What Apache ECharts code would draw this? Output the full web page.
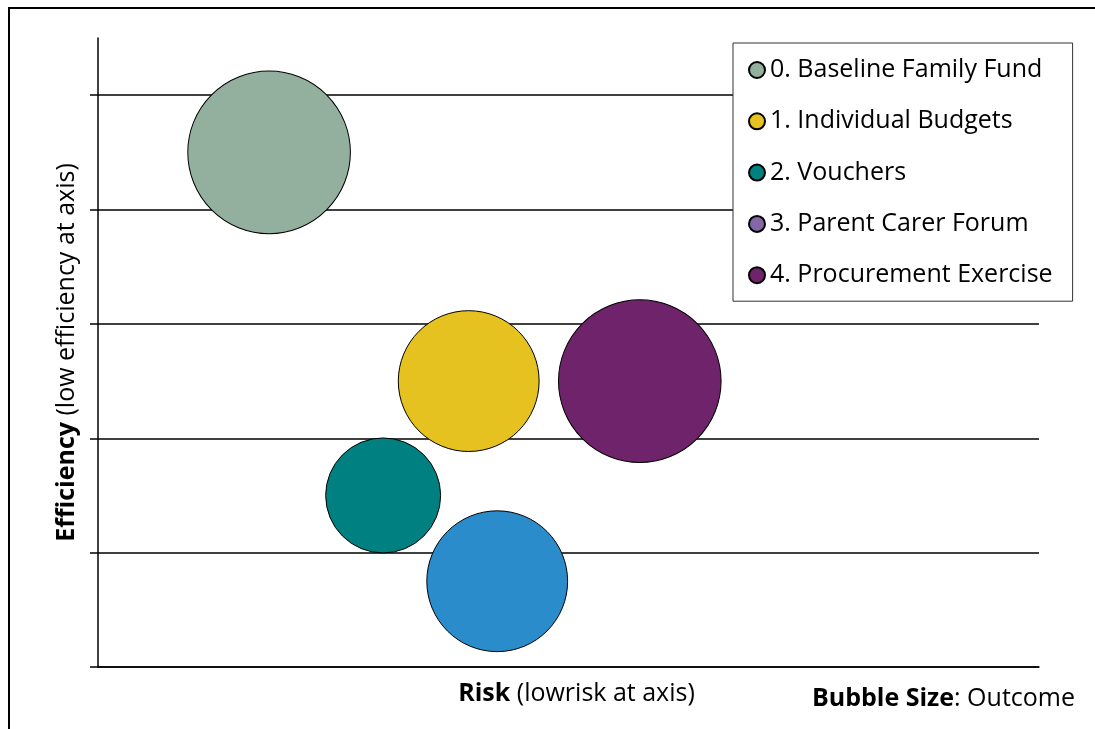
<!DOCTYPE html>
<html>
<head>
<meta charset="utf-8">
<title>Options appraisal bubble chart</title>
<script src="https://cdn.jsdelivr.net/npm/echarts@6/dist/echarts.min.js"></script>
<style>
  html, body { margin: 0; padding: 0; background: #fff; }
  #chart { width: 1095px; height: 729px; }
</style>
</head>
<body>
<div id="chart"></div>
<script>
// Options being compared
const optionNames = [
  '0. Baseline Family Fund',
  '1. Individual Budgets',
  '2. Vouchers',
  '3. Parent Carer Forum',
  '4. Procurement Exercise'
];
// Risk (x), efficiency (y) and outcome (bubble size) scores
const riskScores = [6, 13, 10, 14, 19];
const efficiencyScores = [4.5, 2.5, 1.5, 0.75, 2.5];
const outcomeScores = [4, 3, 2, 3, 4];
// Efficiency tick positions
const efficiencyTicks = [0, 1, 2, 3, 4, 5];

// Series colours; the forum option's bubble is shown in blue
const seriesColors = ['#93AF9D', '#E6C220', '#008080', '#8567A8', '#6F236B'];
const pointColors  = ['#93AF9D', '#E6C220', '#008080', '#2B8CCB', '#6F236B'];

const FONT = '"Open Sans", "Noto Sans", sans-serif';
const FS = 25;

const chart = echarts.init(document.getElementById('chart'), null, { renderer: 'canvas' });

const series = optionNames.map((name, i) => ({
  name: name,
  type: 'scatter',
  symbol: 'circle',
  symbolSize: d => 81.3 * Math.sqrt(d[2]),
  itemStyle: { color: seriesColors[i], borderColor: '#000', borderWidth: 1, opacity: 1 },
  emphasis: { disabled: true },
  z: 3 + i,
  data: [{
    value: [riskScores[i], efficiencyScores[i], outcomeScores[i]],
    itemStyle: { color: pointColors[i] }
  }]
}));

const boldRich = { b: { fontFamily: FONT, fontSize: FS, fontWeight: 'bold', color: '#000' } };

chart.setOption({
  backgroundColor: '#fff',
  animation: false,
  textStyle: { fontFamily: FONT, color: '#000' },
  title: {
    text: '{b|Bubble Size}: Outcome',
    right: 20,
    top: 686,
    padding: 0,
    textStyle: {
      fontFamily: FONT, fontSize: FS, fontWeight: 'normal', color: '#000',
      rich: boldRich
    }
  },
  legend: {
    orient: 'vertical',
    left: 733,
    top: 43,
    padding: [12, 20, 11, 15],
    itemWidth: 16,
    itemHeight: 16,
    itemGap: 21.3,
    backgroundColor: '#fff',
    borderColor: '#333',
    borderWidth: 1,
    icon: 'circle',
    selectedMode: false,
    textStyle: { fontFamily: FONT, fontSize: FS, color: '#000', lineHeight: 30 },
    data: optionNames
  },
  grid: { left: 98, right: 56, top: 38, bottom: 62, containLabel: false },
  xAxis: {
    type: 'value',
    min: 0,
    max: 33,
    name: '{b|Risk} (lowrisk at axis)',
    nameLocation: 'middle',
    nameGap: 14,
    nameTextStyle: {
      fontFamily: FONT, fontSize: FS, color: '#000', padding: [0, 0, 0, 16],
      rich: boldRich
    },
    axisLine: { show: true, lineStyle: { color: '#000', width: 1.5 } },
    axisTick: { show: false },
    axisLabel: { show: false },
    splitLine: { show: false }
  },
  yAxis: {
    type: 'value',
    min: 0,
    max: 5.5,
    interval: 1,
    name: '{b|Efficiency} (low efficiency at axis)',
    nameLocation: 'middle',
    nameGap: 19,
    nameTextStyle: {
      fontFamily: FONT, fontSize: FS, color: '#000',
      rich: boldRich
    },
    axisLine: { show: true, lineStyle: { color: '#000', width: 1.5 } },
    axisTick: { show: true, inside: false, length: 8, customValues: efficiencyTicks,
                lineStyle: { color: '#000', width: 1.5 } },
    axisLabel: { show: false },
    splitLine: { show: true, lineStyle: { color: '#000', width: 1.5 } }
  },
  graphic: [{
    type: 'rect',
    shape: { x: 9, y: 8, width: 1200, height: 800 },
    style: { fill: null, stroke: '#000', lineWidth: 2 },
    silent: true,
    z: 100
  }],
  series: series
});
</script>
</body>
</html>
